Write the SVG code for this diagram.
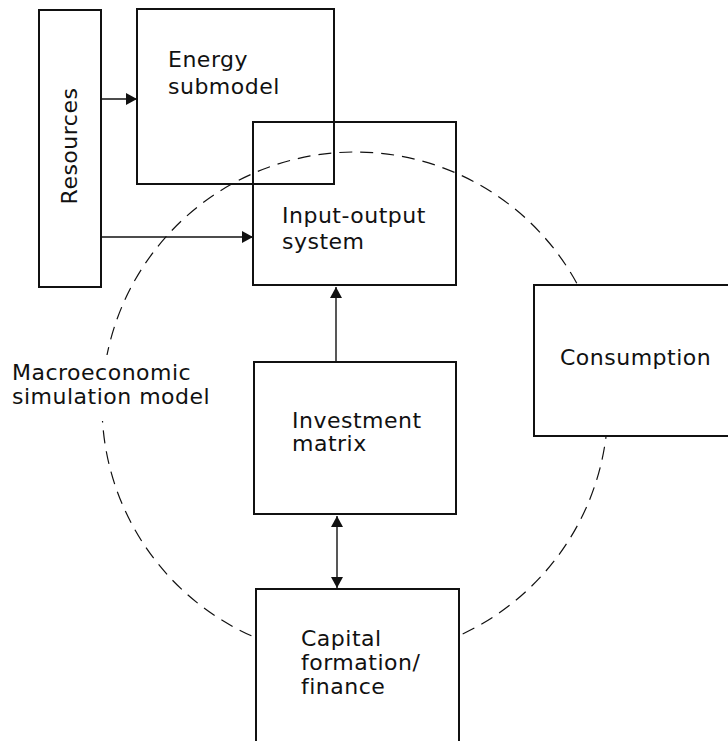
<svg xmlns="http://www.w3.org/2000/svg" width="728" height="741" viewBox="0 0 728 741">
<style>
text{font-family:"DejaVu Sans","Liberation Sans",Arial,sans-serif;font-size:22px;fill:#111;letter-spacing:0.5px}
.box{fill:none;stroke:#111;stroke-width:2}
.wbox{fill:#fff;stroke:#111;stroke-width:2}
.conn{stroke:#111;stroke-width:1.4;fill:none}
.circ{fill:none;stroke:#111;stroke-width:1.2;stroke-dasharray:13 8}
</style>
<defs>
<marker id="ah" viewBox="0 0 11 12" refX="11" refY="6" markerWidth="11" markerHeight="12" markerUnits="userSpaceOnUse" orient="auto-start-reverse">
<path d="M0,0 L11,6 L0,12 Z" fill="#111"/>
</marker>
</defs>
<rect width="728" height="741" fill="#fff"/>
<g id="macro-model">
<circle class="circ" cx="355" cy="405" r="253"/>
<rect x="6" y="355" width="212" height="66" fill="#fff"/>
<text x="12" y="380">Macroeconomic</text>
<text x="12" y="404">simulation model</text>
</g>
<g id="connectors">
<line class="conn" x1="101" y1="99" x2="137" y2="99" marker-end="url(#ah)"/>
<line class="conn" x1="101" y1="237" x2="253" y2="237" marker-end="url(#ah)"/>
<line class="conn" x1="336" y1="362" x2="336" y2="287" marker-end="url(#ah)"/>
<line class="conn" x1="337" y1="516" x2="337" y2="588" marker-start="url(#ah)" marker-end="url(#ah)"/>
</g>
<g id="resources">
<rect class="wbox" x="39" y="10" width="62" height="277"/>
<text transform="translate(77,146) rotate(-90)" text-anchor="middle">Resources</text>
</g>
<g id="energy">
<rect class="box" x="137" y="9" width="197" height="175"/>
<text x="168" y="67">Energy</text>
<text x="168" y="94">submodel</text>
</g>
<g id="input-output">
<rect class="box" x="253" y="122" width="203" height="163"/>
<text x="282" y="223">Input-output</text>
<text x="282" y="249">system</text>
</g>
<g id="consumption">
<rect class="wbox" x="534" y="285" width="200" height="151"/>
<text x="560" y="365">Consumption</text>
</g>
<g id="investment">
<rect class="wbox" x="254" y="362" width="202" height="152"/>
<text x="292" y="428">Investment</text>
<text x="292" y="451">matrix</text>
</g>
<g id="capital">
<rect class="wbox" x="256" y="589" width="203" height="170"/>
<text x="301" y="646">Capital</text>
<text x="301" y="670">formation/</text>
<text x="301" y="694">finance</text>
</g>
</svg>
